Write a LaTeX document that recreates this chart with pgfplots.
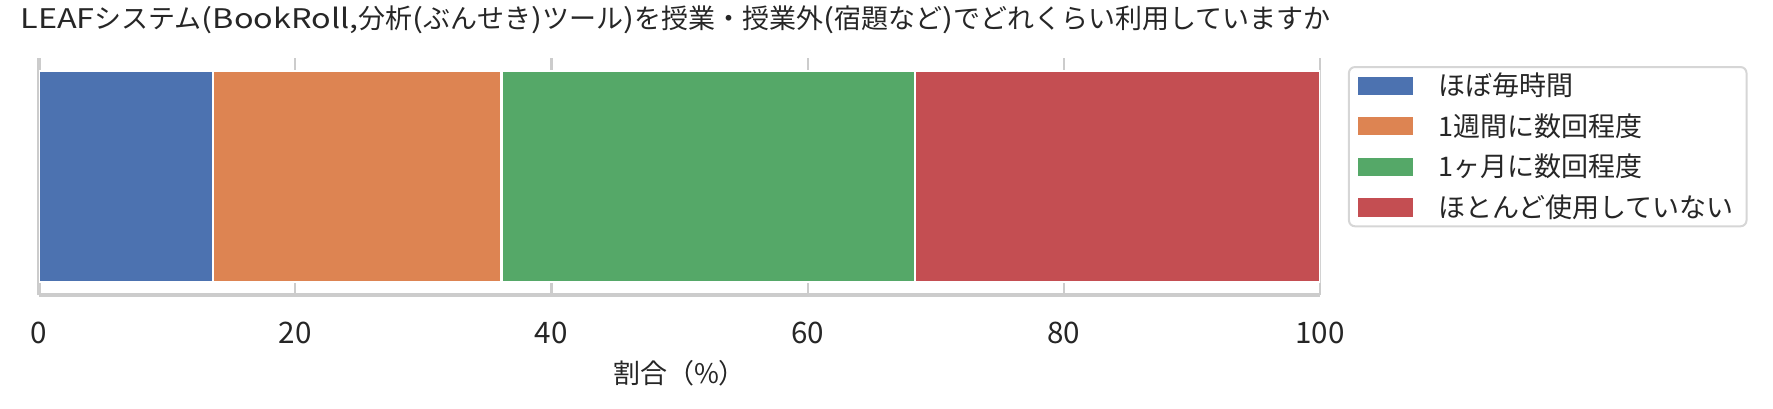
\documentclass[border=0pt]{standalone}
\usepackage{fontspec}
\setmainfont{Noto Sans CJK JP}
\newfontfamily\lat{Noto Sans CJK JP}[FakeStretch=1.2]
\usepackage{pgfplots}
\pgfplotsset{compat=1.18}
\definecolor{c1}{HTML}{4C72B0}
\definecolor{c2}{HTML}{DD8452}
\definecolor{c3}{HTML}{55A868}
\definecolor{c4}{HTML}{C44E52}
\definecolor{gridc}{HTML}{CCCCCC}
\definecolor{legc}{HTML}{D6D6D6}
\definecolor{txt}{HTML}{262626}
\begin{document}
\begin{tikzpicture}
\useasboundingbox (-19.5pt,-56.5pt) rectangle (867pt,147.5pt);
\begin{axis}[
  at={(0,0)}, anchor=south west,
  scale only axis, width=640.5pt, height=118.5pt,
  xbar stacked, bar width=0.8,
  xmin=0, xmax=100, ymin=-0.45, ymax=0.45,
  ytick=\empty,
  xtick={0,20,40,60,80,100},
  major tick length=0pt,
  axis x line*=bottom, axis y line*=left,
  axis line style={draw=gridc, line width=1.6pt},
  xmajorgrids, grid style={draw=gridc, line width=1.1pt},
  /pgf/number format/assume math mode=true,
  xticklabel style={font=\fontsize{14.8}{18}\selectfont, text=txt, anchor=center, yshift=-18.75pt},
  xlabel={割合（\%）},
  xlabel style={font=\fontsize{13.5}{16}\selectfont, text=txt, at={(axis description cs:0.5,0)}, anchor=center, yshift=-39pt},
  title={{\lat LEAF}システム{\lat (BookRoll,}分析{\lat (}ぶんせき{\lat )}ツール{\lat )}を授業・授業外{\lat (}宿題など{\lat )}でどれくらい利用していますか},
  title style={font=\fontsize{13.5}{16}\selectfont, text=txt, at={(axis description cs:-0.0148,1.1097)}, anchor=west, inner sep=0pt, yshift=0pt},
  legend style={at={(axis description cs:1.0218,0.9662)}, anchor=north west, draw=legc, line width=1pt, rounded corners=3pt, fill=white, inner xsep=4.5pt, inner ysep=1pt, row sep=3.4pt, column sep=10.5pt, font=\fontsize{13.5}{16}\selectfont, text=txt, cells={anchor=west}, nodes={inner sep=2pt}},
]
\addplot[fill=c1, draw=white, line width=1.1pt, legend image code/.code={\fill[c1, sharp corners] (0pt,-4pt) rectangle (26.5pt,4pt);}] coordinates {(13.6,0)};
\addlegendentry{ほぼ毎時間}
\addplot[fill=c2, draw=white, line width=1.1pt, legend image code/.code={\fill[c2, sharp corners] (0pt,-4pt) rectangle (26.5pt,4pt);}] coordinates {(22.5,0)};
\addlegendentry{1週間に数回程度}
\addplot[fill=c3, draw=white, line width=1.1pt, legend image code/.code={\fill[c3, sharp corners] (0pt,-4pt) rectangle (26.5pt,4pt);}] coordinates {(32.3,0)};
\addlegendentry{1ヶ月に数回程度}
\addplot[fill=c4, draw=white, line width=1.1pt, legend image code/.code={\fill[c4, sharp corners] (0pt,-4pt) rectangle (26.5pt,4pt);}] coordinates {(31.6,0)};
\addlegendentry{ほとんど使用していない\hspace{9.5pt}}
\end{axis}
\end{tikzpicture}
\end{document}
